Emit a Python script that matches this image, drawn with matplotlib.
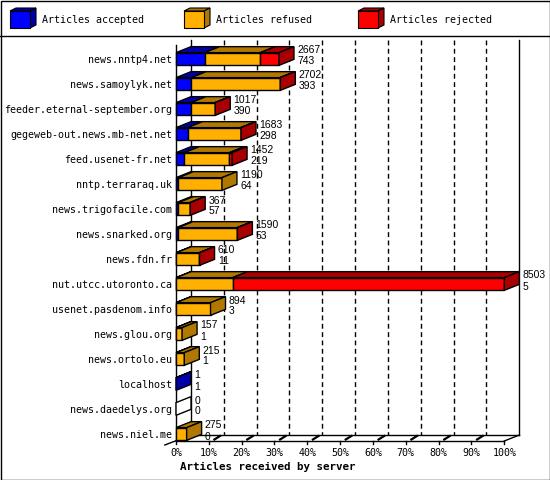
import numpy as np
import matplotlib
matplotlib.use("Agg")
import matplotlib.pyplot as plt
from matplotlib.patches import Polygon, Rectangle

# ---------------------------------------------------------------------------
# data
# ---------------------------------------------------------------------------
servers = [
    "news.nntp4.net", "news.samoylyk.net", "feeder.eternal-september.org",
    "gegeweb-out.news.mb-net.net", "feed.usenet-fr.net", "nntp.terraraq.uk",
    "news.trigofacile.com", "news.snarked.org", "news.fdn.fr",
    "nut.utcc.utoronto.ca", "usenet.pasdenom.info", "news.glou.org",
    "news.ortolo.eu", "localhost", "news.daedelys.org", "news.niel.me",
]
accepted = [743, 393, 390, 298, 219, 64, 57, 53, 11, 5, 3, 1, 1, 1, 0, 0]
refused = [1439, 2297, 619, 1377, 1163, 1126, 305, 1532, 596, 1460, 891, 156, 214, 0, 0, 275]
rejected = [485, 12, 8, 8, 70, 0, 5, 5, 3, 7038, 0, 0, 0, 0, 0, 0]

series_names = ["Articles accepted", "Articles refused", "Articles rejected"]
front_colors = ["#0000ff", "#ffb000", "#ff0000"]
dark_colors = ["#0000a8", "#b07800", "#a80000"]

MONO = "DejaVu Sans Mono"
SANS = "Liberation Sans"

W, H = 550, 480
fig = plt.figure(figsize=(W / 100, H / 100), dpi=100)

# background layer in pixel units: frame, legend
bg = fig.add_axes([0, 0, 1, 1])
bg.set_xlim(0, W)
bg.set_ylim(H, 0)
bg.axis("off")
bg.add_patch(Rectangle((0.5, 0.5), W - 1, H - 1, fill=False, lw=1, ec="black"))
bg.plot([0, W], [35.5, 35.5], color="black", lw=1)

for k, (name, fc, dc) in enumerate(zip(series_names, front_colors, dark_colors)):
    x = 10 + 174 * k
    bg.add_patch(Polygon([(x, 11), (x + 20, 11), (x + 26, 8), (x + 6, 8)],
                         closed=True, fc=dc, ec="black", lw=0.8))
    bg.add_patch(Polygon([(x + 20, 11), (x + 26, 8), (x + 26, 25), (x + 20, 28)],
                         closed=True, fc=dc, ec="black", lw=0.8))
    bg.add_patch(Rectangle((x, 11), 20, 17, fc=fc, ec="black", lw=0.8))
    bg.text(x + 32, 20, name, fontfamily=MONO, fontsize=7.2, va="center", ha="left")

bg.text(180, 467, "Articles received by server", fontfamily=MONO, fontsize=7.8,
        fontweight="bold", va="center", ha="left")

# ---------------------------------------------------------------------------
# main plot (x = percent of largest total, y = server index)
# ---------------------------------------------------------------------------
n = len(servers)
acc = np.array(accepted, float)
ref = np.array(refused, float)
rej = np.array(rejected, float)
total = acc + ref + rej
scale = 100.0 / total.max()

ax = fig.add_axes([176 / W, (H - 446.5) / H, 328.3 / W, 400 / H])
ax.set_xlim(0, 100)
ax.set_ylim(n - 0.5, -0.5)
ax.patch.set_visible(False)
for s in ax.spines.values():
    s.set_visible(False)

DX = 15 * 100 / 328.3     # depth offset in x (percent units)
DY = 6 / 25.0             # depth offset in y (row units)
HH = 0.254                # half height of bar front

y_top = -0.76
y_floor_front = 15.28
y_floor_back = y_floor_front - DY

# back wall
ax.plot([DX, DX], [y_top, y_floor_back], color="black", lw=1, clip_on=False, zorder=1)
ax.plot([100 + DX, 100 + DX], [y_top, y_floor_back], color="black", lw=1, clip_on=False, zorder=1)
for t in range(10, 100, 10):
    ax.plot([t + DX, t + DX], [y_top, y_floor_back], color="black", lw=1,
            ls=(0, (3.5, 2.5)), clip_on=False, zorder=1)

# floor
ax.plot([0, 100], [y_floor_front, y_floor_front], color="black", lw=1, clip_on=False, zorder=1)
ax.plot([DX, 100 + DX], [y_floor_back, y_floor_back], color="black", lw=1, clip_on=False, zorder=1)
ax.plot([100, 100 + DX], [y_floor_front, y_floor_back], color="black", lw=1, clip_on=False, zorder=1)
ax.plot([-3.4, DX], [y_floor_front + 0.16, y_floor_back], color="black", lw=1, clip_on=False, zorder=1)
ax.plot([0, 0], [-0.56, y_floor_front], color="black", lw=1, clip_on=False, zorder=1)
for t in range(0, 101, 10):
    ax.plot([t, t], [y_floor_front, y_floor_front + 0.12], color="black", lw=1, clip_on=False)
    if 0 < t < 100:
        ax.plot([t + 1.7, t + 3.4], [y_floor_front - 0.06, y_floor_front - 0.2],
                color="black", lw=1.6, clip_on=False)

# bars
for i in range(n):
    vals = [acc[i] * scale, ref[i] * scale, rej[i] * scale]
    x0 = 0.0
    last = None
    for k, v in enumerate(vals):
        if v <= 0:
            continue
        x1 = x0 + v
        ax.add_patch(Polygon([(x0, i - HH), (x1, i - HH), (x1 + DX, i - HH - DY), (x0 + DX, i - HH - DY)],
                             closed=True, fc=dark_colors[k], ec="black", lw=1, zorder=3, clip_on=False))
        ax.add_patch(Rectangle((x0, i - HH), v, 2 * HH, fc=front_colors[k], ec="black",
                               lw=1, zorder=3, clip_on=False))
        x0 = x1
        last = k
    side = dark_colors[last] if last is not None else "white"
    ax.add_patch(Polygon([(x0, i - HH), (x0 + DX, i - HH - DY), (x0 + DX, i + HH - DY), (x0, i + HH)],
                         closed=True, fc=side, ec="black", lw=1, zorder=3, clip_on=False))
    ax.text(x0 + DX + 1.0, i - 0.34, f"{int(total[i])}", fontfamily=SANS, fontsize=7.5,
            va="center", ha="left", zorder=4, clip_on=False)
    ax.text(x0 + DX + 1.0, i + 0.1, f"{int(acc[i])}", fontfamily=SANS, fontsize=7.5,
            va="center", ha="left", zorder=4, clip_on=False)

ax.set_yticks(range(n))
ax.set_yticklabels(servers, fontfamily=MONO, fontsize=7.2)
ax.tick_params(axis="y", length=0, pad=2.9)
ticks = np.arange(0, 101, 10)
ax.set_xticks(ticks)
ax.set_xticklabels([f"{t}%" for t in ticks], fontfamily=MONO, fontsize=7.2)
ax.tick_params(axis="x", length=0, pad=1.0)

fig.savefig("out.png", dpi=100, facecolor="white")
